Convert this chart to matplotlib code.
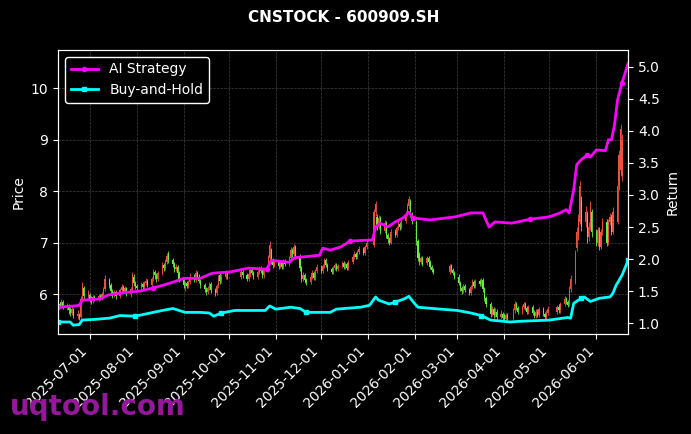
import numpy as np
import pandas as pd
import matplotlib
matplotlib.use('Agg')
import matplotlib.pyplot as plt
import matplotlib.dates as mdates

# trading calendar (SSE holidays removed)
holidays = ['2025-10-01', '2025-10-02', '2025-10-03', '2025-10-06', '2025-10-07',
            '2025-10-08', '2026-01-01', '2026-01-02', '2026-02-16', '2026-02-17',
            '2026-02-18', '2026-02-19', '2026-02-20', '2026-02-23', '2026-04-06',
            '2026-05-01', '2026-05-04', '2026-05-05', '2026-06-19']

# daily OHLC, one row per month (Jun 2025 .. Jun 2026)
opens = [
    5.72, 5.80, 5.76, 5.84, 5.74, 5.78, 5.70, 5.64, 5.70, 5.58, 5.60, 5.56, 5.90, 6.12, 5.96,
    5.98, 5.90, 5.86, 5.94, 5.90, 5.96, 5.92, 6.00, 6.10, 6.28, 6.18, 6.06, 5.98, 6.04, 5.96, 6.08, 6.14, 6.06, 6.12, 6.00, 6.10, 6.34, 6.22,
    6.16, 6.12, 6.20, 6.14, 6.22, 6.26, 6.18, 6.30, 6.42, 6.36, 6.30, 6.40, 6.56, 6.50, 6.62, 6.78, 6.66, 6.58, 6.48, 6.52, 6.40,
    6.30, 6.12, 6.22, 6.16, 6.24, 6.34, 6.28, 6.40, 6.34, 6.26, 6.18, 6.10, 6.04, 6.12, 6.20, 6.08, 6.02, 6.16, 6.36, 6.26, 6.34, 6.40,
    6.34, 6.42, 6.36, 6.30, 6.38, 6.46, 6.40, 6.34, 6.42, 6.50, 6.44, 6.36, 6.46, 6.70, 6.86, 6.66, 6.56,
    6.62, 6.54, 6.60, 6.52, 6.64, 6.58, 6.70, 6.86, 6.78, 6.92, 6.74, 6.50, 6.30, 6.36, 6.28, 6.24, 6.34, 6.40, 6.32, 6.44,
    6.52, 6.44, 6.54, 6.66, 6.56, 6.48, 6.42, 6.50, 6.56, 6.48, 6.54, 6.60, 6.52, 6.58, 6.50, 6.62, 6.72, 6.78, 6.72, 6.82, 6.88, 6.80, 6.92,
    6.96, 7.60, 7.50, 7.30, 7.48, 7.22, 7.38, 7.14, 7.06, 7.00, 7.20, 7.14, 7.28, 7.36, 7.30, 7.42, 7.56, 7.70, 7.80, 7.56,
    7.40, 7.02, 6.78, 6.62, 6.70, 6.60, 6.70, 6.62, 6.52, 6.46, 6.42, 6.54, 6.46, 6.40,
    6.34, 6.22, 6.12, 6.06, 6.16, 6.08, 6.02, 6.14, 6.24, 6.16, 6.26, 6.20, 6.28, 6.10, 5.92, 5.80, 5.62, 5.70, 5.60, 5.66, 5.56, 5.62,
    5.60, 5.52, 5.60, 5.54, 5.68, 5.80, 5.72, 5.66, 5.74, 5.80, 5.72, 5.66, 5.74, 5.64, 5.58, 5.66, 5.60, 5.70, 5.62, 5.56, 5.64,
    5.66, 5.74, 5.68, 5.80, 5.90, 5.84, 5.80, 6.10, 6.24, 6.90, 7.10, 7.40, 7.80, 7.40, 7.56, 7.10, 7.30, 7.60,
    7.20, 7.00, 7.24, 6.92, 7.20, 7.40, 7.00, 7.40, 7.50, 7.20, 7.40, 8.10, 8.40, 8.30, 9.00,
]
closes = [
    5.80, 5.76, 5.84, 5.74, 5.78, 5.68, 5.64, 5.70, 5.58, 5.62, 5.55, 5.90, 6.18, 5.96, 6.02,
    5.90, 5.86, 5.94, 5.90, 5.96, 5.92, 6.00, 6.10, 6.30, 6.18, 6.06, 5.98, 6.04, 5.96, 6.08, 6.14, 6.06, 6.12, 6.02, 6.10, 6.36, 6.22, 6.16,
    6.12, 6.20, 6.14, 6.22, 6.26, 6.18, 6.30, 6.42, 6.36, 6.30, 6.40, 6.56, 6.50, 6.62, 6.74, 6.66, 6.58, 6.48, 6.52, 6.40, 6.30,
    6.18, 6.22, 6.16, 6.24, 6.34, 6.28, 6.40, 6.34, 6.26, 6.18, 6.10, 6.04, 6.12, 6.20, 6.08, 6.02, 6.16, 6.30, 6.26, 6.34, 6.40, 6.36,
    6.42, 6.36, 6.30, 6.38, 6.46, 6.40, 6.34, 6.42, 6.50, 6.44, 6.36, 6.46, 6.70, 6.96, 6.66, 6.56, 6.62,
    6.54, 6.60, 6.52, 6.64, 6.58, 6.70, 6.86, 6.78, 6.92, 6.74, 6.50, 6.30, 6.36, 6.28, 6.24, 6.34, 6.40, 6.32, 6.44, 6.52,
    6.44, 6.54, 6.66, 6.56, 6.48, 6.42, 6.50, 6.56, 6.48, 6.54, 6.60, 6.52, 6.58, 6.50, 6.62, 6.72, 6.78, 6.72, 6.82, 6.88, 6.80, 6.92, 7.00,
    7.60, 7.74, 7.30, 7.48, 7.22, 7.38, 7.14, 7.06, 7.00, 7.20, 7.14, 7.28, 7.36, 7.30, 7.42, 7.56, 7.70, 7.84, 7.56, 7.42,
    7.02, 6.70, 6.62, 6.70, 6.58, 6.70, 6.62, 6.52, 6.46, 6.42, 6.54, 6.46, 6.40, 6.34,
    6.22, 6.12, 6.06, 6.16, 6.08, 6.02, 6.14, 6.24, 6.16, 6.26, 6.20, 6.28, 6.10, 5.92, 5.80, 5.62, 5.70, 5.60, 5.66, 5.56, 5.62, 5.54,
    5.52, 5.60, 5.54, 5.68, 5.80, 5.72, 5.66, 5.74, 5.80, 5.72, 5.66, 5.74, 5.64, 5.58, 5.66, 5.60, 5.70, 5.62, 5.56, 5.64, 5.70,
    5.74, 5.68, 5.80, 5.90, 5.84, 5.78, 6.10, 6.30, 6.80, 7.20, 7.46, 8.10, 7.30, 7.60, 7.10, 7.30, 7.70, 7.20,
    7.00, 7.24, 6.92, 7.20, 7.40, 7.00, 7.40, 7.50, 7.20, 7.60, 8.10, 8.70, 9.20, 9.00, 9.65,
]
highs = [
    5.86, 5.84, 5.90, 5.88, 5.82, 5.80, 5.74, 5.76, 5.72, 5.68, 5.64, 5.96, 6.24, 6.16, 6.08,
    6.02, 5.96, 5.98, 5.98, 6.00, 6.00, 6.04, 6.14, 6.36, 6.32, 6.22, 6.10, 6.08, 6.08, 6.12, 6.20, 6.18, 6.16, 6.14, 6.14, 6.42, 6.38, 6.26,
    6.20, 6.24, 6.24, 6.26, 6.32, 6.30, 6.34, 6.48, 6.46, 6.40, 6.44, 6.62, 6.60, 6.68, 6.80, 6.84, 6.70, 6.62, 6.58, 6.56, 6.44,
    6.34, 6.26, 6.26, 6.28, 6.40, 6.38, 6.46, 6.44, 6.38, 6.30, 6.22, 6.14, 6.16, 6.24, 6.24, 6.12, 6.20, 6.36, 6.40, 6.38, 6.46, 6.44,
    6.46, 6.46, 6.40, 6.42, 6.50, 6.50, 6.44, 6.46, 6.54, 6.54, 6.48, 6.50, 6.76, 7.02, 6.90, 6.70, 6.68,
    6.66, 6.64, 6.64, 6.68, 6.68, 6.74, 6.92, 6.90, 6.98, 6.96, 6.78, 6.54, 6.42, 6.40, 6.32, 6.38, 6.46, 6.44, 6.48, 6.58,
    6.56, 6.58, 6.70, 6.70, 6.60, 6.52, 6.54, 6.60, 6.60, 6.58, 6.64, 6.64, 6.62, 6.62, 6.66, 6.78, 6.84, 6.82, 6.86, 6.94, 6.92, 6.96, 7.06,
    7.66, 7.80, 7.56, 7.54, 7.52, 7.44, 7.42, 7.18, 7.10, 7.26, 7.26, 7.32, 7.42, 7.40, 7.48, 7.62, 7.76, 7.90, 7.84, 7.60,
    7.44, 7.06, 6.82, 6.74, 6.74, 6.74, 6.74, 6.66, 6.56, 6.50, 6.58, 6.58, 6.50, 6.44,
    6.38, 6.26, 6.16, 6.20, 6.20, 6.12, 6.18, 6.30, 6.28, 6.30, 6.30, 6.32, 6.32, 6.14, 5.96, 5.84, 5.76, 5.74, 5.72, 5.70, 5.68, 5.66,
    5.64, 5.64, 5.64, 5.72, 5.86, 5.84, 5.76, 5.78, 5.84, 5.84, 5.76, 5.78, 5.78, 5.68, 5.70, 5.70, 5.74, 5.74, 5.66, 5.68, 5.76,
    5.78, 5.78, 5.84, 5.96, 5.94, 5.88, 6.16, 6.36, 6.86, 7.30, 7.56, 8.20, 7.90, 7.70, 7.62, 7.40, 7.80, 7.66,
    7.26, 7.30, 7.30, 7.26, 7.48, 7.46, 7.46, 7.58, 7.56, 7.68, 8.20, 8.80, 9.30, 9.10, 9.75,
]
lows = [
    5.68, 5.72, 5.72, 5.70, 5.68, 5.62, 5.58, 5.60, 5.54, 5.52, 5.50, 5.54, 5.86, 5.90, 5.90,
    5.84, 5.80, 5.82, 5.86, 5.86, 5.88, 5.88, 5.96, 6.06, 6.12, 6.00, 5.92, 5.94, 5.90, 5.92, 6.04, 6.02, 6.02, 5.96, 5.94, 6.06, 6.16, 6.10,
    6.06, 6.08, 6.10, 6.10, 6.18, 6.14, 6.14, 6.26, 6.30, 6.24, 6.26, 6.36, 6.44, 6.46, 6.58, 6.60, 6.52, 6.42, 6.44, 6.34, 6.24,
    6.12, 6.06, 6.12, 6.12, 6.20, 6.24, 6.24, 6.30, 6.22, 6.12, 6.04, 5.98, 6.00, 6.08, 6.02, 5.96, 5.98, 6.12, 6.20, 6.22, 6.30, 6.30,
    6.30, 6.32, 6.26, 6.26, 6.34, 6.36, 6.30, 6.30, 6.38, 6.40, 6.32, 6.32, 6.42, 6.66, 6.58, 6.50, 6.52,
    6.48, 6.50, 6.48, 6.48, 6.54, 6.54, 6.66, 6.72, 6.74, 6.68, 6.44, 6.24, 6.26, 6.22, 6.18, 6.20, 6.30, 6.28, 6.28, 6.40,
    6.40, 6.40, 6.50, 6.52, 6.44, 6.38, 6.38, 6.46, 6.44, 6.44, 6.50, 6.48, 6.48, 6.46, 6.46, 6.58, 6.68, 6.68, 6.68, 6.78, 6.76, 6.76, 6.88,
    6.92, 7.52, 7.24, 7.26, 7.16, 7.18, 7.08, 7.00, 6.96, 6.98, 7.10, 7.10, 7.24, 7.24, 7.26, 7.38, 7.52, 7.66, 7.50, 7.36,
    6.96, 6.64, 6.56, 6.58, 6.54, 6.56, 6.58, 6.48, 6.42, 6.38, 6.38, 6.42, 6.36, 6.30,
    6.18, 6.06, 6.00, 6.02, 6.04, 5.98, 5.98, 6.10, 6.12, 6.12, 6.16, 6.16, 6.04, 5.86, 5.74, 5.56, 5.58, 5.54, 5.56, 5.50, 5.52, 5.48,
    5.48, 5.48, 5.50, 5.50, 5.64, 5.68, 5.62, 5.62, 5.70, 5.68, 5.62, 5.62, 5.60, 5.54, 5.54, 5.56, 5.56, 5.58, 5.52, 5.52, 5.60,
    5.62, 5.64, 5.64, 5.76, 5.80, 5.74, 5.76, 6.04, 6.20, 6.84, 7.04, 7.36, 7.22, 7.30, 7.00, 7.02, 7.24, 7.10,
    6.94, 6.94, 6.86, 6.88, 7.14, 6.94, 6.96, 7.34, 7.14, 7.16, 7.36, 8.02, 8.30, 8.20, 8.90,
]

# cumulative return curves
ai_dates = ['2025-06-10', '2025-06-21', '2025-06-24', '2025-06-26', '2025-07-08', '2025-07-13',
            '2025-07-24', '2025-08-03', '2025-08-12', '2025-08-18', '2025-08-25', '2025-09-01',
            '2025-09-12', '2025-09-20', '2025-10-02', '2025-10-14', '2025-10-26', '2025-10-29',
            '2025-11-10', '2025-11-13', '2025-11-30', '2025-12-02', '2025-12-07', '2025-12-14',
            '2025-12-20', '2026-01-04', '2026-01-06', '2026-01-09', '2026-01-14', '2026-01-19',
            '2026-01-24', '2026-01-28', '2026-01-31', '2026-02-11', '2026-02-28', '2026-03-10',
            '2026-03-18', '2026-03-22', '2026-03-26', '2026-04-06', '2026-04-18', '2026-05-01',
            '2026-05-08', '2026-05-12', '2026-05-14', '2026-05-17', '2026-05-19', '2026-05-22',
            '2026-05-26', '2026-05-28', '2026-06-01', '2026-06-07', '2026-06-09', '2026-06-11',
            '2026-06-13', '2026-06-15', '2026-06-18', '2026-06-22']
ai_values = [1.25, 1.27, 1.28, 1.36, 1.38, 1.44,
             1.48, 1.50, 1.55, 1.59, 1.64, 1.70,
             1.70, 1.78, 1.80, 1.86, 1.84, 1.98,
             1.95, 2.02, 2.06, 2.17, 2.14, 2.19,
             2.28, 2.30, 2.50, 2.56, 2.50, 2.58,
             2.64, 2.73, 2.64, 2.61, 2.66, 2.72,
             2.72, 2.50, 2.58, 2.56, 2.62, 2.66,
             2.72, 2.77, 2.72, 3.08, 3.47, 3.55,
             3.62, 3.59, 3.70, 3.69, 3.86, 3.86,
             4.09, 4.48, 4.75, 5.05]

bh_dates = ['2025-06-10', '2025-06-18', '2025-06-20', '2025-06-24', '2025-06-26', '2025-07-04',
            '2025-07-14', '2025-07-21', '2025-07-31', '2025-08-10', '2025-08-18', '2025-08-25',
            '2025-09-02', '2025-09-12', '2025-09-18', '2025-09-21', '2025-09-26', '2025-10-05',
            '2025-10-17', '2025-10-25', '2025-10-28', '2025-11-01', '2025-11-11', '2025-11-17',
            '2025-11-21', '2025-12-07', '2025-12-11', '2025-12-27', '2026-01-02', '2026-01-06',
            '2026-01-08', '2026-01-15', '2026-01-19', '2026-01-25', '2026-01-28', '2026-01-31',
            '2026-02-03', '2026-02-18', '2026-03-01', '2026-03-10', '2026-03-17', '2026-03-23',
            '2026-04-05', '2026-04-11', '2026-05-01', '2026-05-13', '2026-05-15', '2026-05-17',
            '2026-05-22', '2026-05-24', '2026-05-28', '2026-06-03', '2026-06-10', '2026-06-12',
            '2026-06-14', '2026-06-18', '2026-06-22']
bh_values = [1.02, 1.02, 0.97, 0.98, 1.05, 1.06,
             1.08, 1.12, 1.11, 1.16, 1.20, 1.23,
             1.17, 1.17, 1.16, 1.11, 1.16, 1.20,
             1.20, 1.20, 1.27, 1.22, 1.25, 1.23,
             1.17, 1.17, 1.22, 1.25, 1.28, 1.41,
             1.36, 1.30, 1.33, 1.38, 1.42, 1.33,
             1.25, 1.22, 1.20, 1.16, 1.12, 1.05,
             1.02, 1.03, 1.05, 1.09, 1.08, 1.31,
             1.39, 1.41, 1.34, 1.39, 1.41, 1.47,
             1.59, 1.75, 1.98]

days = pd.bdate_range('2025-06-10', '2026-06-22')
days = days[~days.isin(pd.to_datetime(holidays))]
o = np.array(opens)
c = np.array(closes)
up = c >= o
col = np.where(up, '#ee5040', '#66ee40')

plt.rcParams['font.family'] = ['DejaVu Sans']

fig = plt.figure(figsize=(6.91, 4.34), dpi=100, facecolor='black')
ax1 = fig.add_subplot(111)
fig.subplots_adjust(left=0.084, right=0.909, bottom=0.230, top=0.885)
ax1.set_facecolor('black')

# candles: wick + body
ax1.vlines(days, lows, highs, colors=col, linewidth=0.6)
ax1.bar(days, c - o, bottom=o, width=0.8, color=col)

ax1.set_ylim(5.22, 10.74)
ax1.set_xlim(days[0], days[-1])
ax1.set_ylabel('Price', color='white')
ax1.grid(True, color='gray', linestyle='--', linewidth=0.5, alpha=0.5)

ax2 = ax1.twinx()
ax2.plot(pd.to_datetime(ai_dates), ai_values, color='#ff00ff', linewidth=2,
         marker='o', markersize=3, markevery=8, label='AI Strategy')
ax2.plot(pd.to_datetime(bh_dates), bh_values, color='#00ffff', linewidth=2,
         marker='s', markersize=3, markevery=8, label='Buy-and-Hold')
ax2.set_ylim(0.83, 5.26)
ax2.set_ylabel('Return', color='white')

ax1.xaxis.set_major_locator(mdates.MonthLocator(bymonthday=1))
ax1.xaxis.set_major_formatter(mdates.DateFormatter('%Y-%m-%d'))
plt.setp(ax1.get_xticklabels(), rotation=45, ha='right')

for ax in (ax1, ax2):
    ax.tick_params(colors='white')
    for s in ax.spines.values():
        s.set_color('white')

ax2.legend(loc='upper left', facecolor='black', edgecolor='white',
           labelcolor='white', framealpha=1)

fig.text(0.497, 1 - 18 / 434, 'CNSTOCK - 600909.SH', color='white',
         fontweight='bold', fontsize=11, ha='center', va='center')
fig.text(0.0145, 0.044, 'uqtool.com', color='#95189a', fontsize=20,
         fontweight='bold', va='baseline', zorder=10)

fig.savefig('out.png', dpi=100, facecolor='black')
